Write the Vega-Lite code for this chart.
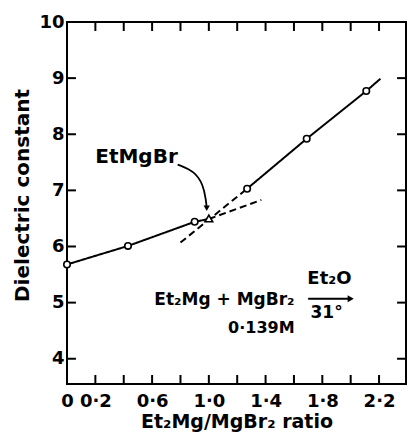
{
  "$schema": "https://vega.github.io/schema/vega-lite/v6.json",
  "width": 339,
  "height": 362,
  "autosize": "none",
  "padding": {"left": 67, "top": 22, "right": 2, "bottom": 56},
  "background": "white",
  "config": {
    "view": {"stroke": "black", "strokeWidth": 2},
    "font": "DejaVu Sans",
    "axis": {"grid": false, "domain": false, "ticks": false, "labelColor": "black", "titleColor": "black", "labelFont": "DejaVu Sans", "titleFont": "DejaVu Sans", "labelOverlap": false, "labelBound": false, "labelFlush": false}
  },
  "datasets": {
    "lines": [
      {"seg": "A", "style": "solid", "x": 0, "y": 5.68},
      {"seg": "A", "style": "solid", "x": 0.43, "y": 6.01},
      {"seg": "A", "style": "solid", "x": 0.90, "y": 6.44},
      {"seg": "A", "style": "solid", "x": 1.00, "y": 6.49},
      {"seg": "Ad", "style": "dashed", "x": 1.00, "y": 6.49},
      {"seg": "Ad", "style": "dashed", "x": 1.37, "y": 6.83},
      {"seg": "Bd", "style": "dashed", "x": 0.80, "y": 6.07},
      {"seg": "Bd", "style": "dashed", "x": 1.27, "y": 7.03},
      {"seg": "B", "style": "solid", "x": 1.27, "y": 7.03},
      {"seg": "B", "style": "solid", "x": 1.69, "y": 7.92},
      {"seg": "B", "style": "solid", "x": 2.11, "y": 8.77},
      {"seg": "B", "style": "solid", "x": 2.21, "y": 8.99}
    ],
    "points": [
      {"x": 0, "y": 5.68},
      {"x": 0.43, "y": 6.01},
      {"x": 0.90, "y": 6.44},
      {"x": 1.27, "y": 7.03},
      {"x": 1.69, "y": 7.92},
      {"x": 2.11, "y": 8.77}
    ],
    "xticks": [{"v": 0.2}, {"v": 0.4}, {"v": 0.6}, {"v": 0.8}, {"v": 1.0}, {"v": 1.2}, {"v": 1.4}, {"v": 1.6}, {"v": 1.8}, {"v": 2.0}, {"v": 2.2}],
    "yticks": [{"v": 4}, {"v": 5}, {"v": 6}, {"v": 7}, {"v": 8}, {"v": 9}],
    "tri": [{"x": 1.00, "y": 6.50}],
    "curve": [
      {"x": 0.78, "y": 7.46},
      {"x": 0.90, "y": 7.34},
      {"x": 0.96, "y": 7.10},
      {"x": 0.98, "y": 6.83},
      {"x": 0.985, "y": 6.68}
    ],
    "head": [{"x": 0.985, "y": 6.68}],
    "rxarrow": [{"x": 1.70, "y": 5.07}, {"x": 2.00, "y": 5.07}],
    "rxhead": [{"x": 2.00, "y": 5.07}],
    "labels": [
      {"x": 0.49, "y": 7.60, "t": "EtMgBr", "sz": 20},
      {"x": 1.11, "y": 5.04, "t": "Et₂Mg + MgBr₂", "sz": 17},
      {"x": 1.37, "y": 4.54, "t": "0·139M", "sz": 16},
      {"x": 1.85, "y": 5.42, "t": "Et₂O", "sz": 18},
      {"x": 1.83, "y": 4.82, "t": "31°", "sz": 17}
    ]
  },
  "layer": [
    {
      "data": {"name": "lines"},
      "mark": {"type": "line", "color": "black", "strokeWidth": 2},
      "encoding": {
        "x": {"field": "x", "type": "quantitative", "scale": {"domain": [0, 2.39], "nice": false, "zero": false},
          "axis": {"orient": "bottom", "values": [0, 0.2, 0.6, 1, 1.4, 1.8, 2.2], "labelPadding": 8, "labelFontSize": 18, "labelFontWeight": "bold", "labelExpr": "datum.value == 0 ? '0' : replace(format(datum.value, '.1f'), '.', '·')", "title": "Et₂Mg/MgBr₂ ratio", "titleFontSize": 19, "titleFontWeight": "bold", "titleBaseline": "middle", "titleY": 37}},
        "y": {"field": "y", "type": "quantitative", "scale": {"domain": [3.55, 10], "nice": false, "zero": false},
          "axis": {"orient": "left", "values": [4, 5, 6, 7, 8, 9, 10], "format": "d", "labelExpr": "format(datum.value, 'd')", "labelPadding": 3, "labelFontSize": 18, "labelFontWeight": "bold", "title": "Dielectric constant", "titleFontSize": 20, "titleFontWeight": "bold", "titleBaseline": "middle", "titleX": -45, "titleY": 173}},
        "detail": {"field": "seg"},
        "strokeDash": {"field": "style", "type": "nominal", "scale": {"domain": ["solid", "dashed"], "range": [[1, 0], [7, 4]]}, "legend": null}
      }
    },
    {
      "data": {"name": "xticks"},
      "mark": {"type": "rule", "color": "black", "strokeWidth": 2, "opacity": 1},
      "encoding": {"x": {"field": "v", "type": "quantitative"}, "y": {"datum": 3.55}, "y2": {"datum": 3.71}}
    },
    {
      "data": {"name": "xticks"},
      "mark": {"type": "rule", "color": "black", "strokeWidth": 2, "opacity": 1},
      "encoding": {"x": {"field": "v", "type": "quantitative"}, "y": {"datum": 10}, "y2": {"datum": 9.84}}
    },
    {
      "data": {"name": "yticks"},
      "mark": {"type": "rule", "color": "black", "strokeWidth": 2, "opacity": 1},
      "encoding": {"y": {"field": "v", "type": "quantitative"}, "x": {"datum": 0}, "x2": {"datum": 0.063}}
    },
    {
      "data": {"name": "yticks"},
      "mark": {"type": "rule", "color": "black", "strokeWidth": 2, "opacity": 1},
      "encoding": {"y": {"field": "v", "type": "quantitative"}, "x": {"datum": 2.39}, "x2": {"datum": 2.327}}
    },
    {
      "data": {"name": "points"},
      "mark": {"type": "point", "shape": "circle", "size": 42, "filled": true, "fill": "white", "stroke": "black", "strokeWidth": 1.6, "opacity": 1},
      "encoding": {"x": {"field": "x", "type": "quantitative"}, "y": {"field": "y", "type": "quantitative"}}
    },
    {
      "data": {"name": "tri"},
      "mark": {"type": "point", "shape": "triangle-up", "size": 60, "filled": true, "fill": "white", "stroke": "black", "strokeWidth": 1.6, "opacity": 1},
      "encoding": {"x": {"field": "x", "type": "quantitative"}, "y": {"field": "y", "type": "quantitative"}}
    },
    {
      "data": {"name": "curve"},
      "mark": {"type": "line", "color": "black", "strokeWidth": 1.8, "interpolate": "basis"},
      "encoding": {"x": {"field": "x", "type": "quantitative"}, "y": {"field": "y", "type": "quantitative"}}
    },
    {
      "data": {"name": "head"},
      "mark": {"type": "point", "shape": "triangle-down", "size": 40, "filled": true, "color": "black", "opacity": 1},
      "encoding": {"x": {"field": "x", "type": "quantitative"}, "y": {"field": "y", "type": "quantitative"}}
    },
    {
      "data": {"name": "rxarrow"},
      "mark": {"type": "line", "color": "black", "strokeWidth": 2},
      "encoding": {"x": {"field": "x", "type": "quantitative"}, "y": {"field": "y", "type": "quantitative"}}
    },
    {
      "data": {"name": "rxhead"},
      "mark": {"type": "point", "shape": "triangle-right", "size": 50, "filled": true, "color": "black", "opacity": 1},
      "encoding": {"x": {"field": "x", "type": "quantitative"}, "y": {"field": "y", "type": "quantitative"}}
    },
    {
      "data": {"name": "labels"},
      "mark": {"type": "text", "color": "black", "align": "center", "baseline": "middle", "fontWeight": "bold"},
      "encoding": {"x": {"field": "x", "type": "quantitative"}, "y": {"field": "y", "type": "quantitative"}, "text": {"field": "t"}, "size": {"field": "sz", "type": "quantitative", "scale": null}}
    }
  ]
}
